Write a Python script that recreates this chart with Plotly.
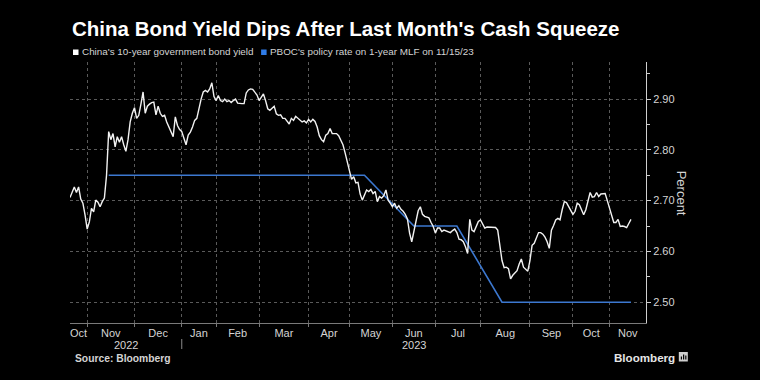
import pandas as pd
import plotly.graph_objects as go

# ---------------- data ----------------
title_text = "China Bond Yield Dips After Last Month's Cash Squeeze"
legend_labels = ["China's 10-year government bond yield",
                 "PBOC's policy rate on 1-year MLF on 11/15/23"]
source_text = "Source: Bloomberg"
brand_text = "Bloomberg"
y_title = "Percent"

# China market holidays inside the window (no trading)
cn_holidays = ["2023-01-02", "2023-01-23", "2023-01-24", "2023-01-25", "2023-01-26",
               "2023-01-27", "2023-04-05", "2023-05-01", "2023-05-02", "2023-05-03",
               "2023-06-22", "2023-06-23", "2023-09-29", "2023-10-02", "2023-10-03",
               "2023-10-04", "2023-10-05", "2023-10-06"]
first_day = "2022-10-20"
last_day = "2023-11-15"
axis_end = "2023-11-24"

# one value per trading day, 2022-10-20 .. 2023-11-15
yield_10y = [
    2.706, 2.716, 2.727, 2.716, 2.727, 2.703, 2.695, 2.672, 2.644, 2.658,
    2.685, 2.678, 2.701, 2.697, 2.688, 2.698, 2.705, 2.750, 2.836, 2.820,
    2.832, 2.806, 2.826, 2.815, 2.826, 2.810, 2.797, 2.820, 2.855, 2.872,
    2.883, 2.862, 2.868, 2.890, 2.914, 2.872, 2.886, 2.890, 2.893, 2.894,
    2.869, 2.886, 2.872, 2.866, 2.868, 2.855, 2.845, 2.834, 2.826, 2.865,
    2.848, 2.840, 2.836, 2.823, 2.810, 2.829, 2.835, 2.845, 2.858, 2.862,
    2.884, 2.900, 2.914, 2.917, 2.914, 2.920, 2.932, 2.905, 2.897, 2.907,
    2.897, 2.895, 2.900, 2.895, 2.897, 2.893, 2.897, 2.900, 2.892, 2.891,
    2.891, 2.891, 2.912, 2.918, 2.920, 2.919, 2.914, 2.908, 2.897, 2.905,
    2.910, 2.897, 2.881, 2.878, 2.883, 2.886, 2.871, 2.868, 2.869, 2.862,
    2.862, 2.856, 2.851, 2.862, 2.858, 2.866, 2.862, 2.857, 2.855, 2.857,
    2.853, 2.860, 2.855, 2.860, 2.856, 2.845, 2.828, 2.820, 2.816, 2.829,
    2.832, 2.842, 2.832, 2.832, 2.832, 2.828, 2.819, 2.810, 2.794, 2.777,
    2.765, 2.742, 2.747, 2.735, 2.736, 2.713, 2.701, 2.710, 2.721, 2.718,
    2.722, 2.714, 2.718, 2.698, 2.708, 2.705, 2.710, 2.721, 2.701, 2.695,
    2.688, 2.695, 2.685, 2.690, 2.683, 2.679, 2.673, 2.664, 2.636, 2.619,
    2.640, 2.663, 2.680, 2.688, 2.673, 2.669, 2.667, 2.666, 2.657, 2.649,
    2.636, 2.646, 2.646, 2.639, 2.642, 2.640, 2.638, 2.637, 2.641, 2.644,
    2.637, 2.624, 2.623, 2.619, 2.609, 2.596, 2.663, 2.642, 2.639, 2.649,
    2.659, 2.662, 2.653, 2.646, 2.648, 2.648, 2.648, 2.648, 2.647, 2.642,
    2.615, 2.582, 2.568, 2.569, 2.566, 2.546, 2.553, 2.557, 2.562, 2.575,
    2.585, 2.569, 2.564, 2.561, 2.582, 2.612, 2.616, 2.628, 2.637, 2.637,
    2.634, 2.628, 2.619, 2.606, 2.642, 2.651, 2.662, 2.665, 2.662, 2.682,
    2.698, 2.696, 2.689, 2.680, 2.673, 2.679, 2.695, 2.692, 2.680, 2.672,
    2.682, 2.702, 2.716, 2.707, 2.708, 2.716, 2.708, 2.713, 2.714, 2.714,
    2.700, 2.686, 2.672, 2.657, 2.657, 2.663, 2.649, 2.650, 2.649, 2.647,
    2.655, 2.663,
]

mlf_dates = ["2022-11-15", "2022-12-15", "2023-01-16", "2023-02-15", "2023-03-15",
             "2023-04-17", "2023-05-15", "2023-06-15", "2023-07-17", "2023-08-15",
             "2023-09-15", "2023-10-16", "2023-11-15"]
mlf_rate = [2.75, 2.75, 2.75, 2.75, 2.75, 2.75, 2.75, 2.65, 2.65, 2.50, 2.50, 2.50, 2.50]

month_labels = ["Oct", "Nov", "Dec", "Jan", "Feb", "Mar", "Apr", "May", "Jun",
                "Jul", "Aug", "Sep", "Oct", "Nov"]
year_labels = ["2022", "2023"]
y_ticks = [2.50, 2.60, 2.70, 2.80, 2.90]
y_minor = [2.55, 2.65, 2.75, 2.85, 2.95]
y_range = [2.459, 2.973]

# ---------------- trading-day calendar ----------------
hol = pd.to_datetime(cn_holidays)
axis_days = pd.bdate_range(first_day, axis_end)
axis_days = axis_days[~axis_days.isin(hol)]
data_days = axis_days[axis_days <= pd.Timestamp(last_day)]
assert len(data_days) == len(yield_10y), (len(data_days), len(yield_10y))

# month boundaries (first trading day of each month)
periods = axis_days.to_period("M")
starts = [i for i in range(1, len(axis_days)) if periods[i] != periods[i - 1]]
bounds = [0] + starts + [len(axis_days) - 1]


def at(m):
    i = int(m)
    return axis_days[i] + pd.Timedelta(hours=24 * (m - i))


month_starts = [axis_days[i] for i in starts]
month_mids = [at((bounds[k] + bounds[k + 1]) / 2) for k in range(len(bounds) - 1)]
jan_idx = [i for i in starts if axis_days[i].month == 1][0]
year_mids = [at((0 + jan_idx) / 2), at((jan_idx + len(axis_days) - 1) / 2)]

# ---------------- layout geometry ----------------
W, H = 760, 380
L, R, T, B = 70, 645.7, 62, 323


def py(p):
    return (B - p) / (B - T)


def px(p):
    return (p - L) / (R - L)


FONT = "Liberation Sans, Arial, sans-serif"
TXT = "#d4d4d4"
GRID = "#5a5a5a"
WHITE = "#f2f2f2"
BLUE = "#3c78d0"

fig = go.Figure()
fig.add_trace(go.Scatter(x=mlf_dates, y=mlf_rate, mode="lines",
                         line=dict(color=BLUE, width=1.6), hoverinfo="skip"))
fig.add_trace(go.Scatter(x=data_days, y=yield_10y, mode="lines",
                         line=dict(color=WHITE, width=1.4), hoverinfo="skip"))

fig.update_layout(
    width=W, height=H, showlegend=False,
    paper_bgcolor="#000000", plot_bgcolor="#000000",
    margin=dict(l=L, r=W - R, t=T, b=H - B, pad=0),
    font=dict(family=FONT, color=TXT, size=11),
    xaxis=dict(
        type="date",
        range=[axis_days[0], axis_days[-1]],
        rangebreaks=[dict(bounds=["sat", "mon"]), dict(values=cn_holidays)],
        tickmode="array", tickvals=month_mids, ticktext=month_labels,
        ticks="", showgrid=False, zeroline=False,
        showline=True, linecolor="#7a7a7a", linewidth=1,
        tickfont=dict(size=11, color=TXT),
        minor=dict(tickmode="array", tickvals=month_starts, showgrid=True,
                   gridcolor=GRID, griddash="dot", gridwidth=1,
                   ticks="outside", ticklen=3, tickcolor="#7a7a7a"),
    ),
    yaxis=dict(
        side="right", range=y_range,
        tickmode="array", tickvals=y_ticks, tickformat=".2f",
        ticks="outside", ticklen=4, tickcolor="#cfcfcf",
        showgrid=True, gridcolor=GRID, griddash="dot", gridwidth=1,
        zeroline=False, showline=True, linecolor="#cfcfcf", linewidth=1,
        tickfont=dict(size=11, color=TXT),
        minor=dict(tickmode="array", tickvals=y_minor, ticks="outside",
                   ticklen=3, tickcolor="#cfcfcf", showgrid=False),
    ),
)

ann = []
ann.append(dict(text="<b>%s</b>" % title_text, x=px(70), y=py(28), xref="paper", yref="paper",
                xanchor="left", yanchor="middle", showarrow=False,
                font=dict(size=20.5, color="#ffffff", family=FONT)))
ann.append(dict(text=legend_labels[0], x=px(80), y=py(52), xref="paper", yref="paper",
                xanchor="left", yanchor="middle", showarrow=False,
                font=dict(size=9.9, color=TXT, family=FONT)))
ann.append(dict(text=legend_labels[1], x=px(268), y=py(52), xref="paper", yref="paper",
                xanchor="left", yanchor="middle", showarrow=False,
                font=dict(size=9.9, color=TXT, family=FONT)))
ann.append(dict(text=y_title, x=px(682), y=py(193), xref="paper", yref="paper",
                xanchor="center", yanchor="middle", showarrow=False, textangle=90,
                font=dict(size=13, color=TXT, family=FONT)))
for lab, xm in zip(year_labels, year_mids):
    ann.append(dict(text=lab, x=xm, y=py(345), xref="x", yref="paper",
                    xanchor="center", yanchor="middle", showarrow=False,
                    font=dict(size=11, color=TXT, family=FONT)))
ann.append(dict(text="<b>%s</b>" % source_text, x=px(72.5), y=py(358), xref="paper", yref="paper",
                xanchor="left", yanchor="middle", showarrow=False,
                font=dict(size=10.3, color=TXT, family=FONT)))
ann.append(dict(text="<b>%s</b>" % brand_text, x=px(611.5), y=py(357), xref="paper", yref="paper",
                xanchor="left", yanchor="middle", showarrow=False,
                font=dict(size=11.6, color="#e6e6e6", family=FONT)))
fig.update_layout(annotations=ann)

shapes = []
# legend squares
shapes.append(dict(type="rect", xref="paper", yref="paper", x0=px(73), x1=px(78.5),
                   y0=py(55), y1=py(49.5), fillcolor="#ffffff", line=dict(width=0)))
shapes.append(dict(type="rect", xref="paper", yref="paper", x0=px(261), x1=px(266.5),
                   y0=py(55), y1=py(49.5), fillcolor="#2f7be6", line=dict(width=0)))
# year separator
shapes.append(dict(type="line", xref="x", yref="paper", x0=month_starts[2], x1=month_starts[2],
                   y0=py(339), y1=py(349), line=dict(color="#8a8a8a", width=1)))
# brand icon
shapes.append(dict(type="rect", xref="paper", yref="paper", x0=px(678.5), x1=px(687.5),
                   y0=py(361.5), y1=py(352), fillcolor="#cfcfcf", line=dict(width=0)))
for bx, bh in [(680.5, 3), (682.7, 5), (684.9, 4)]:
    shapes.append(dict(type="rect", xref="paper", yref="paper", x0=px(bx), x1=px(bx + 1.2),
                       y0=py(359.5), y1=py(359.5 - bh), fillcolor="#000000", line=dict(width=0)))
fig.update_layout(shapes=shapes)

fig.write_html(
    "out.html",
    config={"displayModeBar": False},
    post_script="document.body.style.margin='0';document.body.style.padding='0';"
                "document.body.style.background='#000';"
                "document.documentElement.style.overflow='hidden';",
)
